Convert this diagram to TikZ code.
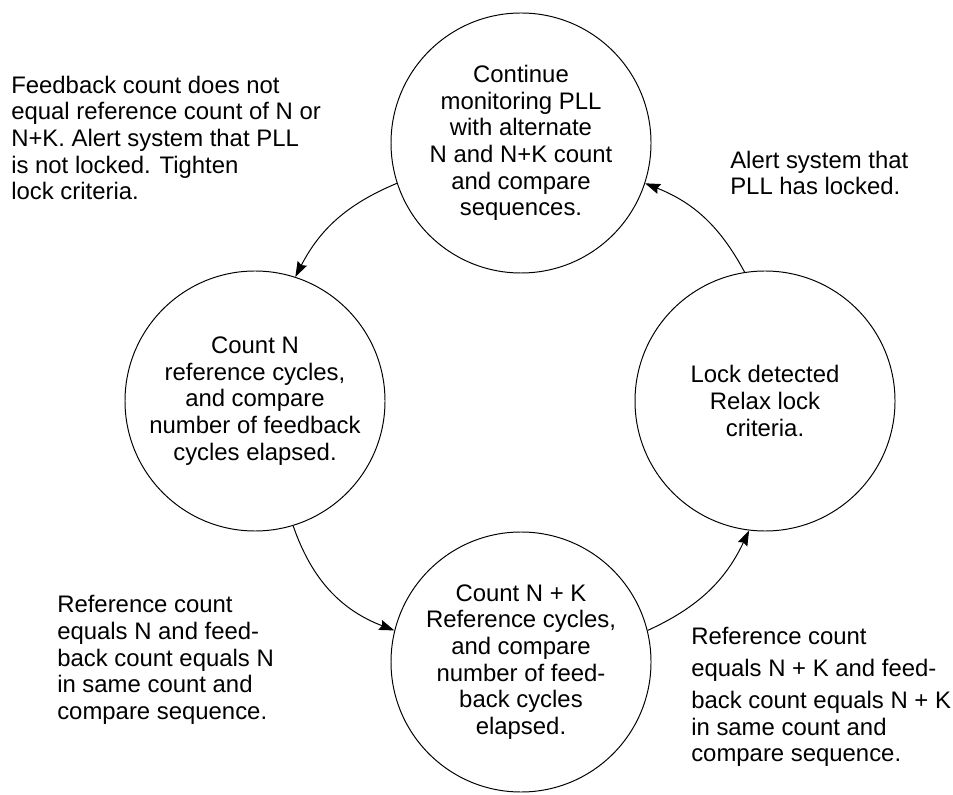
\documentclass[tikz,border=0pt]{standalone}
\usepackage{fontspec}
\setmainfont{Liberation Sans}
\usetikzlibrary{arrows.meta}

\begin{document}
\begin{tikzpicture}[x=0.25mm,y=0.25mm,font=\fontsize{17}{19}\selectfont,
	state/.style={draw,circle,line width=0.7pt,minimum size=65mm,inner sep=0pt,align=center},
	note/.style={anchor=west,inner sep=0pt,align=left},
	trans/.style={line width=0.7pt,-{Stealth[length=3.8mm,width=2.6mm,inset=0.5mm]}}]
	\useasboundingbox (0,-795) rectangle (953,0);
	\node[state] (monitor) at (521,-143) {Continue\\monitoring PLL\\with alternate\\N and N+K count\\and compare\\sequences.};
	\node[state] (countn) at (255,-401) {Count N\\reference cycles,\\and compare\\number of feedback\\cycles elapsed.};
	\node[state] (locked) at (765,-401) {Lock detected\\Relax lock\\criteria.};
	\node[state] (countnk) at (521,-662) {Count N + K\\Reference cycles,\\and compare\\number of feed-\\back cycles\\elapsed.};
	\node[note] (nolock) at (11,-138) {Feedback count does not\\equal reference count of N or\\N+K. Alert system that PLL\\is not locked. Tighten\\lock criteria.};
	\node[note] (haslock) at (730,-173) {Alert system that\\PLL has locked.};
	\node[note] (eqn) at (57,-660) {Reference count\\equals N and feed-\\back count equals N\\in same count and\\compare sequence.};
	\node[note] (eqnk) at (691,-697) {Reference count\\[3.8pt]equals N + K and feed-\\[3.8pt]back count equals N + K\\in same count and\\compare sequence.};
	\draw[trans] (monitor.198) to[bend right=20] (countn.72);
	\draw[trans] (countn.287) to[bend right=25] (countnk.166);
	\draw[trans] (countnk.14) to[bend right=20] (locked.263);
	\draw[trans] (locked.99) to[bend right=20] (monitor.342);
\end{tikzpicture}
\end{document}
